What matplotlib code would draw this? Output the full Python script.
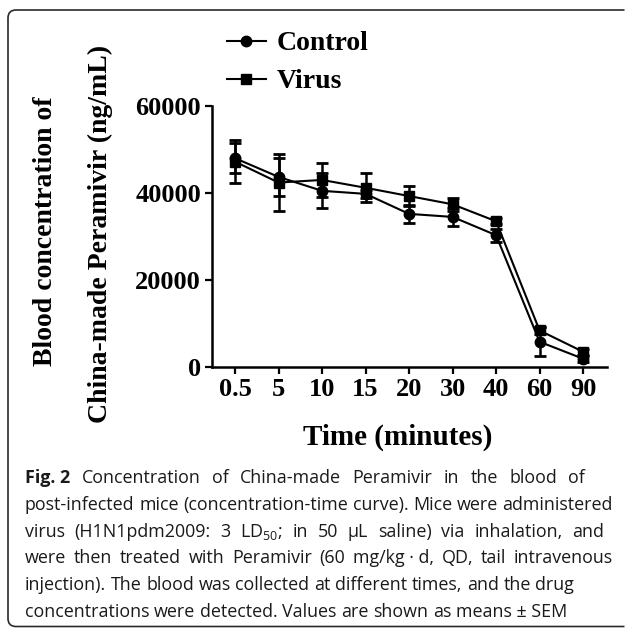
import matplotlib
matplotlib.use("Agg")
from matplotlib import pyplot as plt
from matplotlib.path import Path
from matplotlib.patches import PathPatch

# data
times = ['0.5', '5', '10', '15', '20', '30', '40', '60', '90']
control = [48000, 43700, 40500, 39800, 35200, 34500, 30300, 5800, 1900]
control_sem = [3500, 4300, 4000, 1000, 2000, 2000, 1500, 3300, 700]
virus = [47200, 42400, 43000, 41200, 39300, 37400, 33500, 8400, 3500]
virus_sem = [5000, 6500, 3900, 3300, 2300, 1500, 700, 800, 700]
yticks = [0, 20000, 40000, 60000]

# caption lines: text, right edge in px (justified lines), justified?
caption = [
    ("Fig.\u00a02 Concentration of China-made Peramivir in the blood of", 585, True),
    ("post-infected mice (concentration-time curve). Mice were administered", 613, True),
    ("virus (H1N1pdm2009: 3 LD$_\\mathregular{50}$; in 50 \u00b5L saline) via inhalation, and", 604, True),
    ("were then treated with Peramivir (60 mg/kg\u00a0\u00b7\u00a0d, QD, tail intravenous", 613, True),
    ("injection). The blood was collected at different times, and the drug", 0, False),
    ("concentrations were detected. Values are shown as means\u00a0\u00b1\u00a0SEM", 0, False),
]

W, H = 625, 628
serif = 'Liberation Serif'
fig = plt.figure(figsize=(W / 100, H / 100), dpi=100)

# rounded frame, open on the right (stops at the picture edge)
fl, ft, fb, r = 8, 10, 626.5, 8
pts = [(W - 0.5, H - ft), (fl + r, H - ft), (fl, H - ft), (fl, H - ft - r),
       (fl, H - fb + r), (fl, H - fb), (fl + r, H - fb), (W - 0.5, H - fb)]
codes = [Path.MOVETO, Path.LINETO, Path.CURVE3, Path.CURVE3,
         Path.LINETO, Path.CURVE3, Path.CURVE3, Path.LINETO]
frame = PathPatch(Path([(px / W, py / H) for px, py in pts], codes), transform=fig.transFigure,
                  fill=False, edgecolor='#2a2a2a', linewidth=1.2)
fig.patches.append(frame)

ax = fig.add_axes([212 / W, 1 - 367 / H, (607 - 212) / W, (367 - 106) / H])
ax.patch.set_alpha(0)
x = list(range(len(times)))

ax.errorbar(x, control, yerr=control_sem, fmt='none', ecolor='black', elinewidth=1.8,
            capsize=4.5, capthick=2)
ax.errorbar(x, virus, yerr=virus_sem, fmt='none', ecolor='black', elinewidth=1.8,
            capsize=4.5, capthick=2)
ax.plot(x, control, 'k-', marker='o', markersize=7.5, linewidth=1.5, label='Control')
ax.plot(x, virus, 'k-', marker='s', markersize=7, linewidth=1.5, label='Virus')

ax.set_xlim(-0.53, 8.55)
ax.set_ylim(0, 60000)
ax.set_xticks(x)
ax.set_xticklabels(times, fontfamily=serif, fontweight='bold', fontsize=19)
ax.set_yticks(yticks)
ax.set_yticklabels([str(v) for v in yticks], fontfamily=serif, fontweight='bold', fontsize=19)
ax.tick_params(axis='both', length=5, width=1.6, direction='out', colors='black')
ax.tick_params(axis='y', pad=3)
ax.tick_params(axis='x', pad=3)
for s in ['top', 'right']:
    ax.spines[s].set_visible(False)
for s in ['left', 'bottom']:
    ax.spines[s].set_linewidth(1.8)

ax.legend(loc='upper left', bbox_to_anchor=(213 / W, 1 - 17 / H), bbox_transform=fig.transFigure,
          frameon=False, handlelength=1.4, handletextpad=0.4, labelspacing=0.45, borderpad=0,
          prop={'family': serif, 'weight': 'bold', 'size': 20})

# y label in two lines
fig.text(46 / W, 1 - 231 / H, 'Blood concentration of', rotation=90, ha='center', va='center',
         fontfamily=serif, fontweight='bold', fontsize=20)
fig.text(100 / W, 1 - 234 / H, 'China-made Peramivir (ng/mL)', rotation=90, ha='center', va='center',
         fontfamily=serif, fontweight='bold', fontsize=20)
fig.text(398 / W, 1 - 437 / H, 'Time (minutes)', ha='center', va='center',
         fontfamily=serif, fontweight='bold', fontsize=21)

# caption, drawn word by word so the justified lines reach the right edge
cap_font = dict(fontfamily=['Open Sans', 'DejaVu Sans'], fontsize=12.9, color='#1a1a1a')
renderer = fig.canvas.get_renderer()
sp = fig.text(0, 0, 'x x', **cap_font)
nsp = fig.text(0, 0, 'xx', **cap_font)
space = sp.get_window_extent(renderer).width - nsp.get_window_extent(renderer).width
sp.remove()
nsp.remove()

x0 = 25
baseline = 483
for i, (line, right, justify) in enumerate(caption):
    y = 1 - (baseline + i * 26.8) / H
    words = line.split(' ')
    texts = []
    for j, w in enumerate(words):
        bold = i == 0 and j == 0
        texts.append(fig.text(0, y, w, va='baseline', fontweight='bold' if bold else 'normal', **cap_font))
    widths = [t.get_window_extent(renderer).width for t in texts]
    gap = (right - x0 - sum(widths)) / (len(words) - 1) if justify else space
    xp = x0
    for t, w in zip(texts, widths):
        t.set_x(xp / W)
        xp += w + gap

fig.savefig('out.png', dpi=100)
